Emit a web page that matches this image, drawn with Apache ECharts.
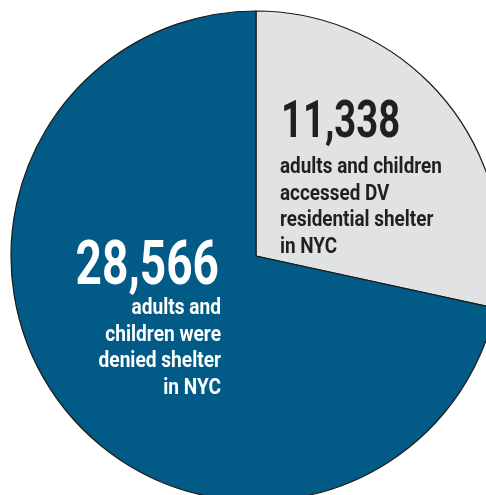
<!DOCTYPE html>
<html>
<head>
<meta charset="utf-8">
<style>
  html, body { margin: 0; padding: 0; background: #ffffff; }
  #chart { width: 486px; height: 495px; }
</style>
<script src="https://cdn.jsdelivr.net/npm/echarts@6/dist/echarts.min.js"></script>
</head>
<body>
<div id="chart"></div>
<script>
// Shelter outcomes in NYC
const categories = ['accessed DV residential shelter', 'denied shelter'];
const values = [11338, 28566];
const sliceColors = ['#e1e2e4', '#025a87'];
const accessedLines = ['adults and children', 'accessed DV', 'residential shelter', 'in NYC'];
const deniedLines = ['adults and', 'children were', 'denied shelter', 'in NYC'];

const FONT = 'Roboto, sans-serif';
const fmt = v => String(v).replace(/\B(?=(\d{3})+(?!\d))/g, ',');

const chart = echarts.init(document.getElementById('chart'), null, { renderer: 'canvas' });

// Condensed bold text: Roboto squeezed horizontally around its anchor point
function textEl(text, x, baseline, size, squeeze, color, align) {
  return {
    type: 'text',
    x: x,
    y: baseline - 0.342 * size + 4,
    scaleX: squeeze,
    z: 100,
    silent: true,
    style: {
      text: text,
      fontFamily: FONT,
      fontWeight: 'bold',
      fontSize: size,
      fill: color,
      textAlign: align,
      textVerticalAlign: 'middle'
    }
  };
}

const graphics = [];
// light slice annotation
graphics.push(textEl(fmt(values[0]), 281, 138, 51, 0.75, '#231f20', 'left'));
accessedLines.forEach((t, i) => graphics.push(textEl(t, 280, 171.5 + i * 26.4, 22.5, 0.84, '#231f20', 'left')));
// dark slice annotation
graphics.push(textEl(fmt(values[1]), 219, 285.5, 61, 0.755, '#ffffff', 'right'));
deniedLines.forEach((t, i) => graphics.push(textEl(t, 221, 312 + i * 26.7, 22.5, 0.85, '#ffffff', 'right')));

chart.setOption({
  animation: false,
  backgroundColor: '#ffffff',
  series: [{
    type: 'pie',
    center: [256, 256],
    radius: 245,
    startAngle: 90,
    clockwise: true,
    silent: true,
    label: { show: false },
    labelLine: { show: false },
    itemStyle: { borderColor: '#1a1a1a', borderWidth: 1.2 },
    data: categories.map((name, i) => ({
      name: name,
      value: values[i],
      itemStyle: { color: sliceColors[i] }
    }))
  }],
  graphic: { elements: graphics }
});
</script>
</body>
</html>
